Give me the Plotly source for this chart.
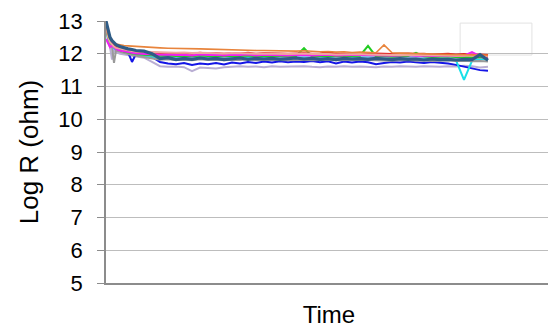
import plotly.graph_objects as go

# time axis (arbitrary units)
t = [0, 2, 4, 6, 8, 10, 14, 18, 22, 26, 30, 38, 46, 54, 62, 70, 78, 86, 94, 102,
     110, 118, 126, 134, 142, 150, 158, 166, 174, 182, 190, 198, 206, 214, 222, 230,
     238, 246, 254, 262, 270, 278, 286, 294, 302, 310, 318, 326, 334, 342, 350, 358,
     366, 374, 382]

lavender = [12.80, 12.40, 12.20, 11.82, 12.10, 12.05, 12.00, 11.98, 11.95, 11.93, 11.90,
            11.88, 11.75, 11.62, 11.60, 11.61, 11.59, 11.47, 11.58, 11.57, 11.55, 11.59,
            11.60, 11.62, 11.60, 11.61, 11.59, 11.62, 11.60, 11.61, 11.60, 11.62, 11.60,
            11.59, 11.61, 11.60, 11.62, 11.60, 11.61, 11.60, 11.59, 11.61, 11.60, 11.62,
            11.60, 11.60, 11.62, 11.61, 11.60, 11.62, 11.61, 11.63, 11.62, 11.58, 11.60]

blue = [12.90, 12.55, 12.40, 12.30, 12.25, 12.20, 12.15, 12.10, 12.05, 11.75, 12.00,
        11.98, 11.90, 11.75, 11.70, 11.68, 11.72, 11.66, 11.70, 11.68, 11.72, 11.67,
        11.73, 11.70, 11.75, 11.72, 11.76, 11.73, 11.77, 11.74, 11.76, 11.75, 11.78,
        11.74, 11.77, 11.70, 11.76, 11.73, 11.76, 11.74, 11.68, 11.72, 11.75, 11.73,
        11.76, 11.74, 11.72, 11.75, 11.73, 11.70, 11.66, 11.60, 11.55, 11.50, 11.48]

cyan = [12.85, 12.45, 12.30, 12.22, 12.16, 12.12, 12.08, 12.04, 12.00, 11.98, 11.96,
        11.93, 11.90, 11.88, 11.89, 11.87, 11.88, 11.86, 11.89, 11.87, 11.88, 11.86,
        11.88, 11.87, 11.89, 11.86, 11.88, 11.87, 11.88, 11.86, 11.87, 11.88, 11.86,
        11.87, 11.88, 11.86, 11.87, 11.86, 11.88, 11.87, 11.86, 11.87, 11.85, 11.86,
        11.87, 11.85, 11.86, 11.84, 11.85, 11.86, 11.80, 11.20, 11.78, 11.84, 11.82]

gray = [12.88, 12.50, 12.32, 12.20, 11.72, 12.10, 12.06, 12.02, 11.98, 11.96, 11.94,
        11.90, 11.86, 11.82, 11.83, 11.81, 11.82, 11.80, 11.83, 11.81, 11.82, 11.80,
        11.82, 11.81, 11.83, 11.80, 11.82, 11.81, 11.82, 11.80, 11.81, 11.82, 11.80,
        11.81, 11.82, 11.80, 11.81, 11.80, 11.82, 11.81, 11.80, 11.81, 11.79, 11.80,
        11.81, 11.79, 11.80, 11.78, 11.79, 11.80, 11.78, 11.79, 11.77, 11.78, 11.76]

lightblue = [12.92, 12.55, 12.38, 12.28, 12.22, 12.18, 12.12, 12.08, 12.05, 12.02, 12.00,
             11.97, 11.95, 11.92, 11.93, 11.91, 11.92, 11.90, 11.93, 11.91, 11.92, 11.90,
             11.92, 11.91, 11.93, 11.90, 11.92, 11.91, 11.92, 11.90, 11.91, 11.92, 11.90,
             11.91, 11.92, 11.90, 11.91, 11.90, 11.92, 11.91, 11.90, 11.91, 11.89, 11.90,
             11.91, 11.89, 11.90, 11.88, 11.89, 11.90, 11.88, 11.89, 11.87, 11.88, 11.86]

green = [12.90, 12.52, 12.36, 12.27, 12.21, 12.16, 12.11, 12.07, 12.04, 12.01, 11.99,
         11.97, 11.95, 11.94, 11.95, 11.93, 11.94, 11.92, 11.95, 11.93, 11.94, 11.92,
         11.94, 11.93, 11.95, 11.92, 11.94, 11.93, 11.94, 11.92, 11.93, 12.17, 11.92,
         11.93, 11.94, 11.92, 11.93, 11.92, 11.94, 12.24, 11.92, 11.93, 11.91, 11.92,
         11.93, 12.03, 11.92, 11.90, 11.91, 11.92, 11.90, 11.91, 11.89, 11.90, 11.88]

red = [12.93, 12.56, 12.40, 12.31, 12.25, 12.21, 12.17, 12.13, 12.10, 12.08, 12.06,
       12.04, 12.03, 12.02, 12.03, 12.01, 12.02, 12.00, 12.03, 12.01, 12.02, 12.00,
       12.02, 12.01, 12.03, 12.00, 12.02, 12.01, 12.02, 12.00, 12.01, 12.02, 12.00,
       12.01, 12.05, 12.00, 12.01, 12.00, 12.02, 12.01, 12.00, 12.01, 11.99, 12.00,
       12.01, 11.99, 12.00, 11.98, 11.99, 12.00, 11.98, 11.99, 11.97, 11.98, 11.96]

magenta = [12.45, 12.32, 12.20, 12.25, 12.18, 12.14, 12.10, 12.07, 12.05, 12.03, 12.01,
           11.99, 11.98, 11.97, 11.98, 11.96, 11.97, 11.95, 11.98, 11.96, 11.97, 11.95,
           11.97, 11.96, 11.98, 11.95, 11.97, 11.96, 11.97, 11.95, 11.96, 11.97, 11.95,
           11.96, 11.97, 11.95, 11.96, 11.95, 11.97, 11.96, 11.95, 11.96, 11.94, 11.95,
           11.96, 11.94, 11.95, 11.93, 11.94, 11.95, 11.93, 11.94, 12.05, 11.93, 11.91]

salmon = [12.90, 12.52, 12.36, 12.28, 12.22, 12.18, 12.15, 12.12, 12.10, 12.08, 12.07,
          12.06, 12.05, 12.04, 12.04, 12.03, 12.04, 12.02, 12.03, 12.02, 12.03, 12.01,
          12.02, 12.01, 12.02, 12.00, 12.01, 12.00, 12.01, 11.99, 12.00, 12.01, 11.99,
          12.00, 11.99, 11.98, 11.99, 11.98, 11.99, 11.98, 11.97, 11.98, 11.96, 11.97,
          11.97, 11.96, 11.96, 11.95, 11.96, 11.95, 11.94, 11.95, 11.94, 11.94, 11.93]

orange = [12.95, 12.60, 12.45, 12.38, 12.33, 12.30, 12.27, 12.25, 12.24, 12.23, 12.22,
          12.20, 12.19, 12.18, 12.17, 12.17, 12.16, 12.15, 12.15, 12.14, 12.13, 12.13,
          12.12, 12.12, 12.11, 12.10, 12.10, 12.09, 12.10, 12.08, 12.08, 12.09, 12.07,
          12.06, 12.07, 12.05, 12.06, 12.04, 12.05, 12.03, 12.03, 12.27, 12.03, 12.02,
          12.01, 12.00, 12.00, 11.99, 11.98, 11.98, 11.97, 11.97, 11.96, 11.97, 11.95]

slate = [13.00, 12.70, 12.50, 12.40, 12.32, 12.28, 12.22, 12.18, 12.15, 12.13, 12.10,
         12.08, 12.00, 11.85, 11.88, 11.82, 11.86, 11.83, 11.87, 11.84, 11.86, 11.82,
         11.85, 11.87, 11.83, 11.86, 11.84, 11.86, 11.83, 11.85, 11.87, 11.84, 11.86,
         11.83, 11.85, 11.82, 11.86, 11.84, 11.85, 11.83, 11.86, 11.84, 11.82, 11.85,
         11.83, 11.84, 11.81, 11.84, 11.82, 11.83, 11.81, 11.83, 11.82, 11.97, 11.80]

series = [
    ("Lavender", lavender, "#B9AED3", 2),
    ("Blue", blue, "#1515E6", 2),
    ("Cyan", cyan, "#18E0E8", 2),
    ("Gray", gray, "#9A9A9A", 2),
    ("Light blue", lightblue, "#8DB4E2", 2),
    ("Green", green, "#22CC22", 2),
    ("Red", red, "#E02828", 2),
    ("Magenta", magenta, "#F020F0", 2),
    ("Salmon", salmon, "#EFA7A0", 2),
    ("Orange", orange, "#E8843C", 1.6),
    ("Slate", slate, "#2F5C86", 3.2),
]

y_ticks = [5, 6, 7, 8, 9, 10, 11, 12, 13]

font_family = "Liberation Sans, Arial, sans-serif"

fig = go.Figure()
for name, vals, color, w in series:
    fig.add_trace(go.Scatter(x=t, y=vals, mode="lines", name=name,
                             line=dict(color=color, width=w), showlegend=False))

fig.add_shape(type="rect", xref="paper", yref="paper", x0=0.794, x1=0.955,
              y0=0.870, y1=0.992, line=dict(color="#E2E2E2", width=1),
              fillcolor="white", layer="below")

# page body has an 8px default margin, so the figure is offset by (8, 8)
fig.update_layout(
    width=548, height=322,
    margin=dict(l=98, r=4, t=13, b=47, autoexpand=False),
    paper_bgcolor="white", plot_bgcolor="white",
    font=dict(family=font_family, color="black"),
    xaxis=dict(range=[0, 446], showticklabels=False, ticks="", showgrid=False,
               zeroline=False, showline=True, linecolor="#8C8C8C", linewidth=1.5,
               automargin=False,
               title=dict(text="Time", font=dict(size=24), standoff=22)),
    yaxis=dict(range=[5, 13], tickvals=y_ticks, ticktext=[str(v) for v in y_ticks],
               ticks="outside", ticklen=7, tickcolor="#8C8C8C",
               tickfont=dict(size=22), showgrid=True, gridcolor="#BDBDBD",
               gridwidth=1, zeroline=False, showline=True, linecolor="#8C8C8C",
               linewidth=1.5, ticklabelstandoff=10, automargin=False,
               title=dict(text="Log R (ohm)", font=dict(size=26), standoff=12)),
)

fig.write_html("out.html")
